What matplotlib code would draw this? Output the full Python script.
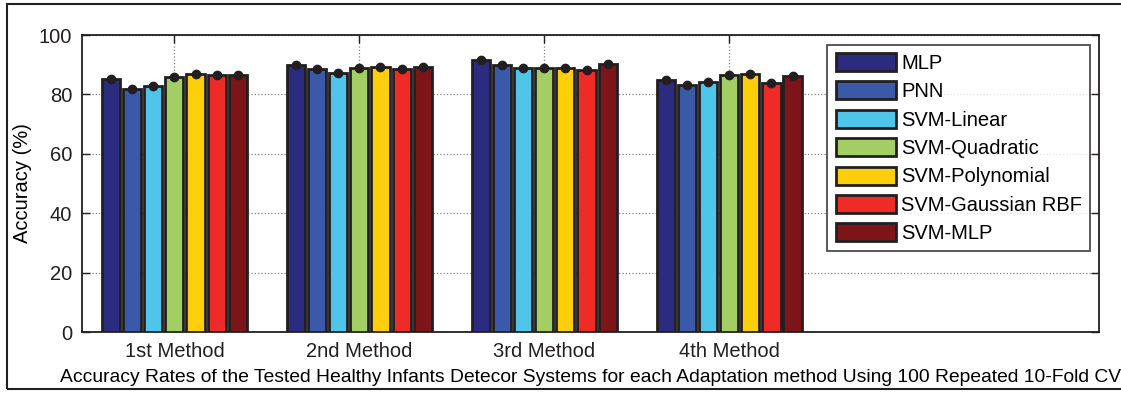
import numpy as np
import matplotlib
matplotlib.use("Agg")
import matplotlib.pyplot as plt
from matplotlib.patches import Rectangle

plt.rcParams['font.family'] = ['Liberation Sans', 'DejaVu Sans']

# Data
methods = ["1st Method", "2nd Method", "3rd Method", "4th Method"]
classifiers = ["MLP", "PNN", "SVM-Linear", "SVM-Quadratic", "SVM-Polynomial",
               "SVM-Gaussian RBF", "SVM-MLP"]
mlp = [85.1, 89.9, 91.5, 84.9]
pnn = [81.8, 88.5, 89.9, 83.2]
svm_linear = [82.9, 87.3, 88.8, 84.2]
svm_quadratic = [85.9, 88.9, 88.8, 86.6]
svm_polynomial = [86.8, 89.3, 88.8, 86.8]
svm_rbf = [86.4, 88.4, 88.2, 83.8]
svm_mlp = [86.4, 89.3, 90.4, 86.1]
errors = 0.3

colors = ["#2b2c7f", "#3a5aa9", "#50c5ea", "#a3cf62", "#fccf0a", "#ee2b26", "#7c1418"]

FS = 14.5


def main():
    series = [mlp, pnn, svm_linear, svm_quadratic, svm_polynomial, svm_rbf, svm_mlp]
    fig = plt.figure(figsize=(11.21, 3.93), dpi=100)
    ax = fig.add_axes([0.0731, 0.1552, 0.9073, 0.7557])

    x = np.arange(1, len(methods) + 1)
    n = len(series)
    pitch = 0.8 / n
    for i, vals in enumerate(series):
        pos = x - 0.4 + pitch * (i + 0.5)
        ax.bar(pos, vals, width=pitch * 0.86, color=colors[i], edgecolor="#231f20",
               linewidth=2.0, label=classifiers[i], zorder=3)
        ax.errorbar(pos, vals, yerr=errors, fmt="o", color="#231f20", ms=6,
                    capsize=3, elinewidth=1.2, zorder=4)

    ax.set_xlim(0.5, 6.0)
    ax.set_ylim(0, 100)
    ax.set_xticks(x)
    ax.set_xticklabels(methods)
    ax.set_yticks([0, 20, 40, 60, 80, 100])
    ax.tick_params(direction="in", length=6, width=1, top=True, right=True,
                   labelsize=FS, pad=7, colors="#231f20")
    ax.grid(True, linestyle=":", color="0.5", linewidth=0.9, zorder=0)
    for s in ax.spines.values():
        s.set_linewidth(1.3)
        s.set_color("#231f20")

    ax.set_ylabel("Accuracy (%)", fontsize=FS)
    ax.yaxis.set_label_coords(-0.049, 0.5)
    ax.set_xlabel("Accuracy Rates of the Tested Healthy Infants Detecor Systems for each "
                  "Adaptation method Using 100 Repeated 10-Fold CV", fontsize=13.85)
    ax.xaxis.set_label_coords(0.5, -0.125)

    leg = ax.legend(loc="upper right", bbox_to_anchor=(1 - 9 / 1017, 1 - 10 / 297),
                    borderaxespad=0, fontsize=FS, frameon=True, fancybox=False,
                    handlelength=3.0, handleheight=1.0, labelspacing=0.42,
                    handletextpad=0.25, borderpad=0.4)
    leg.get_frame().set_edgecolor("#231f20")
    leg.get_frame().set_linewidth(1.3)

    # outer frame around the whole figure
    fig.patches.append(Rectangle((7 / 1121, 4 / 393), 1.05, 385 / 393,
                                 transform=fig.transFigure, fill=False,
                                 edgecolor="#231f20", linewidth=1.5))

    fig.savefig("out.png", dpi=100)


if __name__ == "__main__":
    main()
